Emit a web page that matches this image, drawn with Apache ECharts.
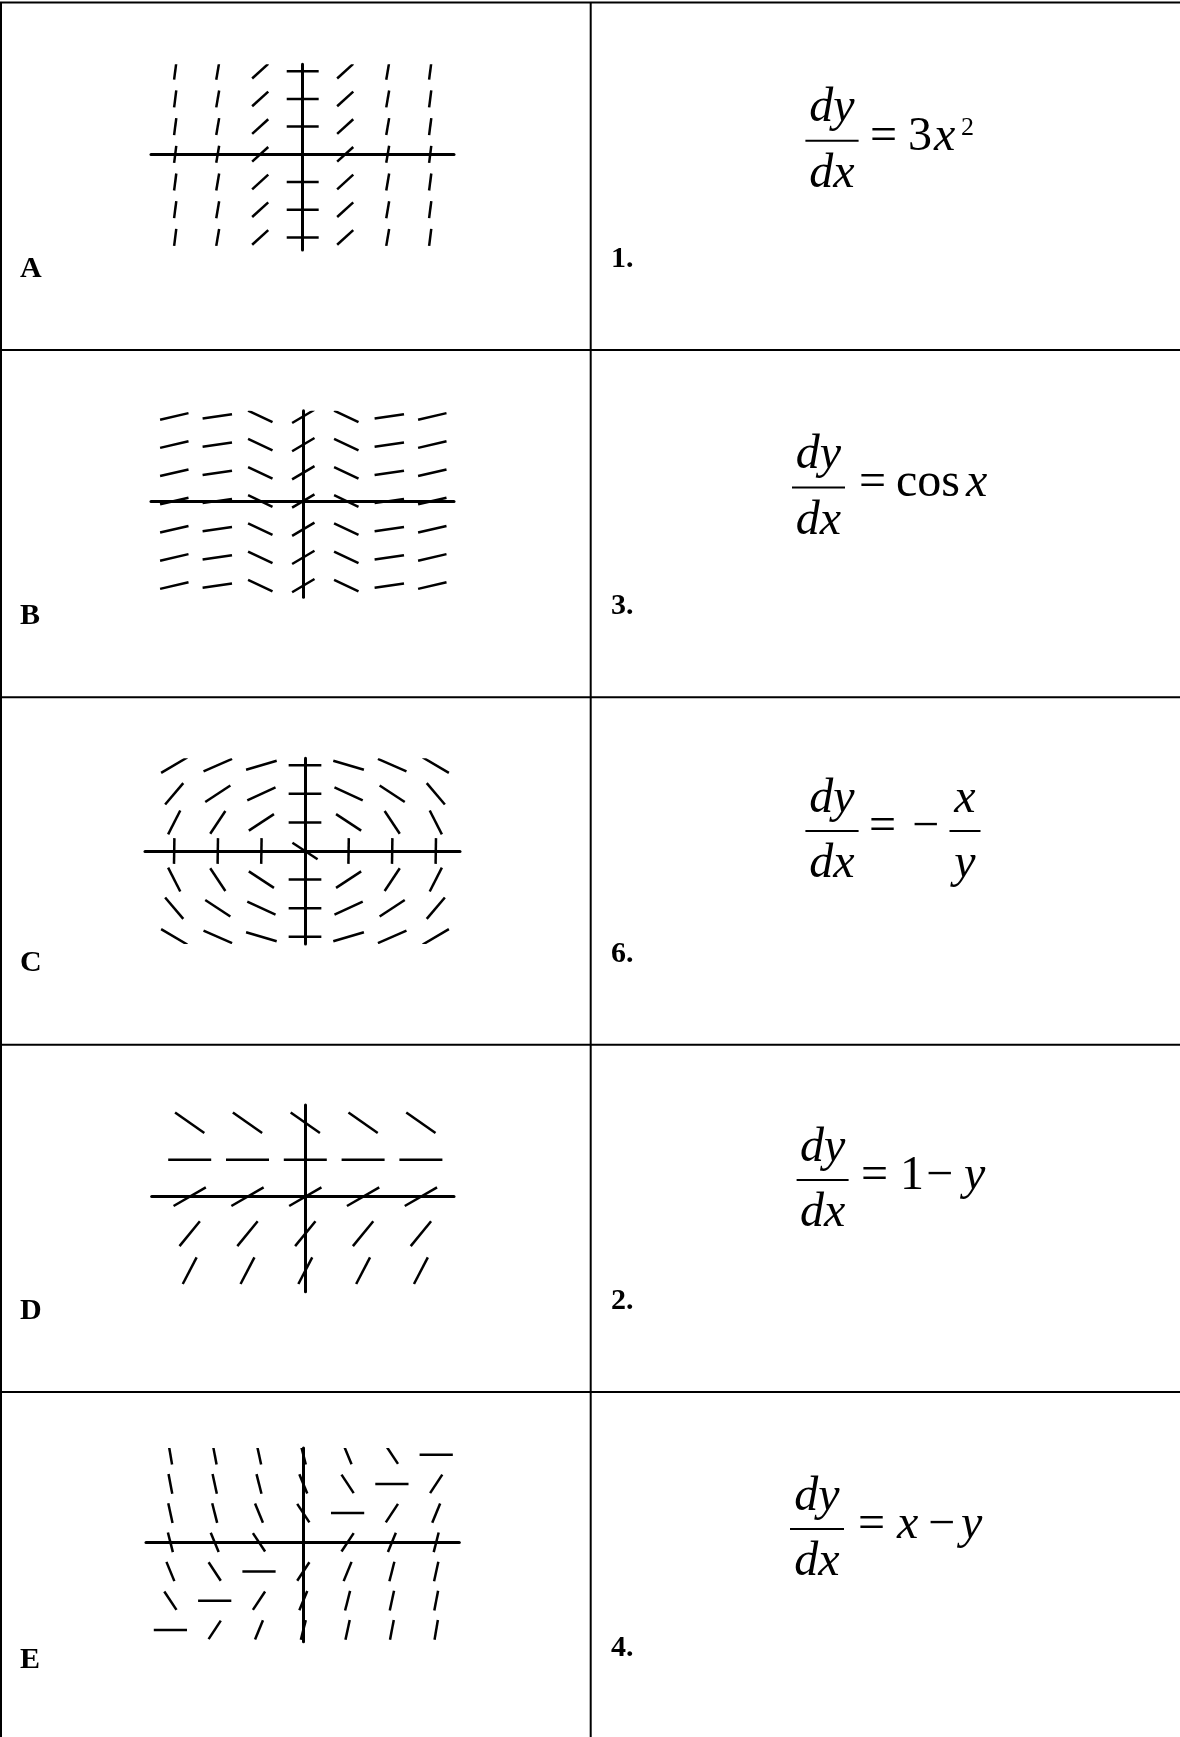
<!DOCTYPE html>
<html>
<head>
<meta charset="utf-8">
<script src="https://cdn.jsdelivr.net/npm/echarts@6/dist/echarts.min.js"></script>
<style>
html,body{margin:0;padding:0;background:#fff;}
#chart{width:1180px;height:1737px;}
</style>
</head>
<body>
<div id="chart"></div>
<script>
// ---------------- DATA ----------------
// grid positions of the slope marks (data units)
const colsX7 = [-3, -2, -1, 0, 1, 2, 3];
const rowsY7 = [3, 2, 1, 0, -1, -2, -3];
const colsX5 = [-2, -1, 0, 1, 2];
const rowsY5 = [2, 1, 0, -1, -2];

// slope read at each mark, rows top -> bottom, columns left -> right (99 = vertical)
const slopesA = [
  [12, 9, 1.4, 0, 1.4, 9, 12],
  [12, 9, 1.4, 0, 1.4, 9, 12],
  [12, 9, 1.4, 0, 1.4, 9, 12],
  [12, 9, 1.4, 0, 1.4, 9, 12],
  [12, 9, 1.4, 0, 1.4, 9, 12],
  [12, 9, 1.4, 0, 1.4, 9, 12],
  [12, 9, 1.4, 0, 1.4, 9, 12]
];
const slopesB = [
  [0.35, 0.22, -0.72, 0.9, -0.72, 0.22, 0.35],
  [0.35, 0.22, -0.72, 0.9, -0.72, 0.22, 0.35],
  [0.35, 0.22, -0.72, 0.9, -0.72, 0.22, 0.35],
  [0.35, 0.22, -0.72, 0.9, -0.72, 0.22, 0.35],
  [0.35, 0.22, -0.72, 0.9, -0.72, 0.22, 0.35],
  [0.35, 0.22, -0.72, 0.9, -0.72, 0.22, 0.35],
  [0.35, 0.22, -0.72, 0.9, -0.72, 0.22, 0.35]
];
const slopesC = [
  [0.9, 0.67, 0.45, 0, -0.45, -0.67, -0.9],
  [1.8, 1.0, 0.7, 0, -0.7, -1.0, -1.8],
  [3.0, 2.3, 1.0, 0, -1.0, -2.3, -3.0],
  [99, 99, 99, -1, 99, 99, 99],
  [-3.0, -2.3, -1.0, 0, 1.0, 2.3, 3.0],
  [-1.8, -1.0, -0.7, 0, 0.7, 1.0, 1.8],
  [-0.9, -0.67, -0.45, 0, 0.45, 0.67, 0.9]
];
const slopesD = [
  [-1.1, -1.1, -1.1, -1.1, -1.1],
  [0, 0, 0, 0, 0],
  [0.9, 0.9, 0.9, 0.9, 0.9],
  [1.9, 1.9, 1.9, 1.9, 1.9],
  [3.0, 3.0, 3.0, 3.0, 3.0]
];
const slopesE = [
  [-9, -8, -7, -6, -3.7, -2.3, 0],
  [-8, -7, -6, -3.7, -2.3, 0, 2.3],
  [-7, -6, -3.7, -2.3, 0, 2.3, 3.7],
  [-6, -3.7, -2.3, 0, 2.3, 3.7, 6],
  [-3.7, -2.3, 0, 2.3, 3.7, 6, 7],
  [-2.3, 0, 2.3, 3.7, 6, 7, 8],
  [0, 2.3, 3.7, 6, 7, 8, 9]
];

const panelLetters = ['A', 'B', 'C', 'D', 'E'];
const itemNumbers = ['1.', '3.', '6.', '2.', '4.'];

// ---------------- LAYOUT / STYLE ----------------
// ox,oy: pixel of origin; cs,rs: pixels per unit; left/right/top/bottom: axis extents;
// a,b: half-extent of a slope mark (data units, x and y)
const panels = [
  {ox: 302.7, oy: 154.3, cs: 42.5, rs: 27.7, left: 151, right: 454, top: 64.3, bottom: 250, a: 0.376, b: 0.307, xs: colsX7, ys: rowsY7, s: slopesA},
  {ox: 303.3, oy: 501.0, cs: 43.0, rs: 28.2, left: 151, right: 454, top: 410.7, bottom: 597.3, a: 0.35, b: 0.35, xs: colsX7, ys: rowsY7, s: slopesB},
  {ox: 305.0, oy: 851.0, cs: 43.6, rs: 28.6, left: 145, right: 460, top: 758.3, bottom: 944, a: 0.375, b: 0.45, xs: colsX7, ys: rowsY7, s: slopesC},
  {ox: 305.3, oy: 1196.7, cs: 57.8, rs: 37.0, left: 151.7, right: 454, top: 1105, bottom: 1291.7, a: 0.372, b: 0.38, xs: colsX5, ys: rowsY5, s: slopesD},
  {ox: 303.3, oy: 1542.3, cs: 44.3, rs: 29.2, left: 146, right: 459.3, top: 1448, bottom: 1641.7, a: 0.375, b: 0.34, xs: colsX7, ys: rowsY7, s: slopesE}
];

const SERIF = '"Liberation Serif", "Times New Roman", serif';
const MID = 0.3375; // canvas 'middle' offset above alphabetic baseline (em)

function T(text, x, baseline, size, style, align) {
  return {
    type: 'text', x: x, y: baseline - MID * size, silent: true,
    style: {
      text: text, font: (style ? style + ' ' : '') + size + 'px ' + SERIF,
      fill: '#000', textAlign: align || 'left', textVerticalAlign: 'middle',
      align: align || 'left', verticalAlign: 'middle'
    }
  };
}
function L(x1, y1, x2, y2, w) {
  return {type: 'line', silent: true, shape: {x1: x1, y1: y1, x2: x2, y2: y2},
          style: {stroke: '#000', lineWidth: w || 2}};
}
function frac(cx, barY, halfW, num, den, size) {
  return [
    T(num, cx, barY - 15.7, size, 'italic', 'center'),
    L(cx - halfW, barY, cx + halfW, barY, 2),
    T(den, cx, barY + 50, size, 'italic', 'center')
  ];
}

const F = 48;
let graphics = [];
// table rules
const rowLines = [349.9, 697.3, 1044.7, 1392.1];
graphics.push(L(0, 2.5, 1180, 2.5, 2));
graphics.push(L(1, 2.5, 1, 1737, 2));
graphics.push(L(590.7, 2.5, 590.7, 1737, 2));
rowLines.forEach(y => graphics.push(L(0, y, 1180, y, 2)));

// labels
const letterBase = [279, 626.4, 973.8, 1321.2, 1670];
const numberBase = [269, 616.4, 964.5, 1311.2, 1658];
panelLetters.forEach((t, i) => graphics.push(T(t, 20, letterBase[i], 30, 'bold', 'left')));
itemNumbers.forEach((t, i) => graphics.push(T(t, 611, numberBase[i], 30, 'bold', 'left')));

// equations
// 1: dy/dx = 3x^2
graphics = graphics.concat(frac(832, 140.7, 26.6, 'dy', 'dx', F));
graphics.push(T('=', 870, 153.2, F, '', 'left'));
graphics.push(T('3', 908, 153.2, F, '', 'left'));
graphics.push(T('x', 934, 153.2, F, 'italic', 'left'));
graphics.push(T('2', 961, 137, 26, '', 'left'));
// 3: dy/dx = cos x
graphics = graphics.concat(frac(818.5, 487.5, 26.5, 'dy', 'dx', F));
graphics.push(T('=', 859, 500, F, '', 'left'));
graphics.push(T('cos', 896, 500, F, '', 'left'));
graphics.push(T('x', 966, 500, F, 'italic', 'left'));
// 6: dy/dx = -x/y
graphics = graphics.concat(frac(832, 831, 26.6, 'dy', 'dx', F));
graphics.push(T('=', 869, 843.5, F, '', 'left'));
graphics.push(T('\u2212', 912, 843.5, F, '', 'left'));
graphics = graphics.concat(frac(965, 831, 15.5, 'x', 'y', F));
// 2: dy/dx = 1 - y
graphics = graphics.concat(frac(822.6, 1180, 26, 'dy', 'dx', F));
graphics.push(T('=', 861, 1192.5, F, '', 'left'));
graphics.push(T('1', 900, 1192.5, F, '', 'left'));
graphics.push(T('\u2212', 926, 1192.5, F, '', 'left'));
graphics.push(T('y', 964, 1192.5, F, 'italic', 'left'));
// 4: dy/dx = x - y
graphics = graphics.concat(frac(817, 1529, 27, 'dy', 'dx', F));
graphics.push(T('=', 858, 1541.5, F, '', 'left'));
graphics.push(T('x', 897, 1541.5, F, 'italic', 'left'));
graphics.push(T('\u2212', 928, 1541.5, F, '', 'left'));
graphics.push(T('y', 961, 1541.5, F, 'italic', 'left'));

// ---------------- CHART ----------------
function makeRender(a, b) {
  return function (params, api) {
    const x = api.value(0), y = api.value(1), s = api.value(2);
    const t = 1 / Math.sqrt(1 / (a * a) + (s * s) / (b * b));
    const p1 = api.coord([x - t, y - t * s]);
    const p2 = api.coord([x + t, y + t * s]);
    return {
      type: 'line',
      shape: {x1: p1[0], y1: p1[1], x2: p2[0], y2: p2[1]},
      style: {stroke: '#000', lineWidth: 2.5, lineCap: 'butt'}
    };
  };
}

const grids = [], xAxes = [], yAxes = [], series = [];
panels.forEach((p, i) => {
  grids.push({left: p.left, top: p.top, width: p.right - p.left, height: p.bottom - p.top, containLabel: false});
  const axisCommon = {
    type: 'value', gridIndex: i,
    axisLine: {show: true, onZero: true, lineStyle: {color: '#000', width: 3}},
    axisTick: {show: false}, axisLabel: {show: false}, splitLine: {show: false}
  };
  xAxes.push(Object.assign({}, axisCommon, {min: (p.left - p.ox) / p.cs, max: (p.right - p.ox) / p.cs}));
  yAxes.push(Object.assign({}, axisCommon, {min: -(p.bottom - p.oy) / p.rs, max: (p.oy - p.top) / p.rs}));
  const data = [];
  p.ys.forEach((yv, r) => p.xs.forEach((xv, c) => data.push([xv, yv, p.s[r][c]])));
  series.push({
    type: 'custom', xAxisIndex: i, yAxisIndex: i, clip: true, silent: true,
    renderItem: makeRender(p.a, p.b), data: data, animation: false
  });
});

const chart = echarts.init(document.getElementById('chart'), null, {renderer: 'canvas'});
chart.setOption({
  backgroundColor: '#fff',
  animation: false,
  grid: grids, xAxis: xAxes, yAxis: yAxes, series: series,
  graphic: {elements: graphics}
});
</script>
</body>
</html>
